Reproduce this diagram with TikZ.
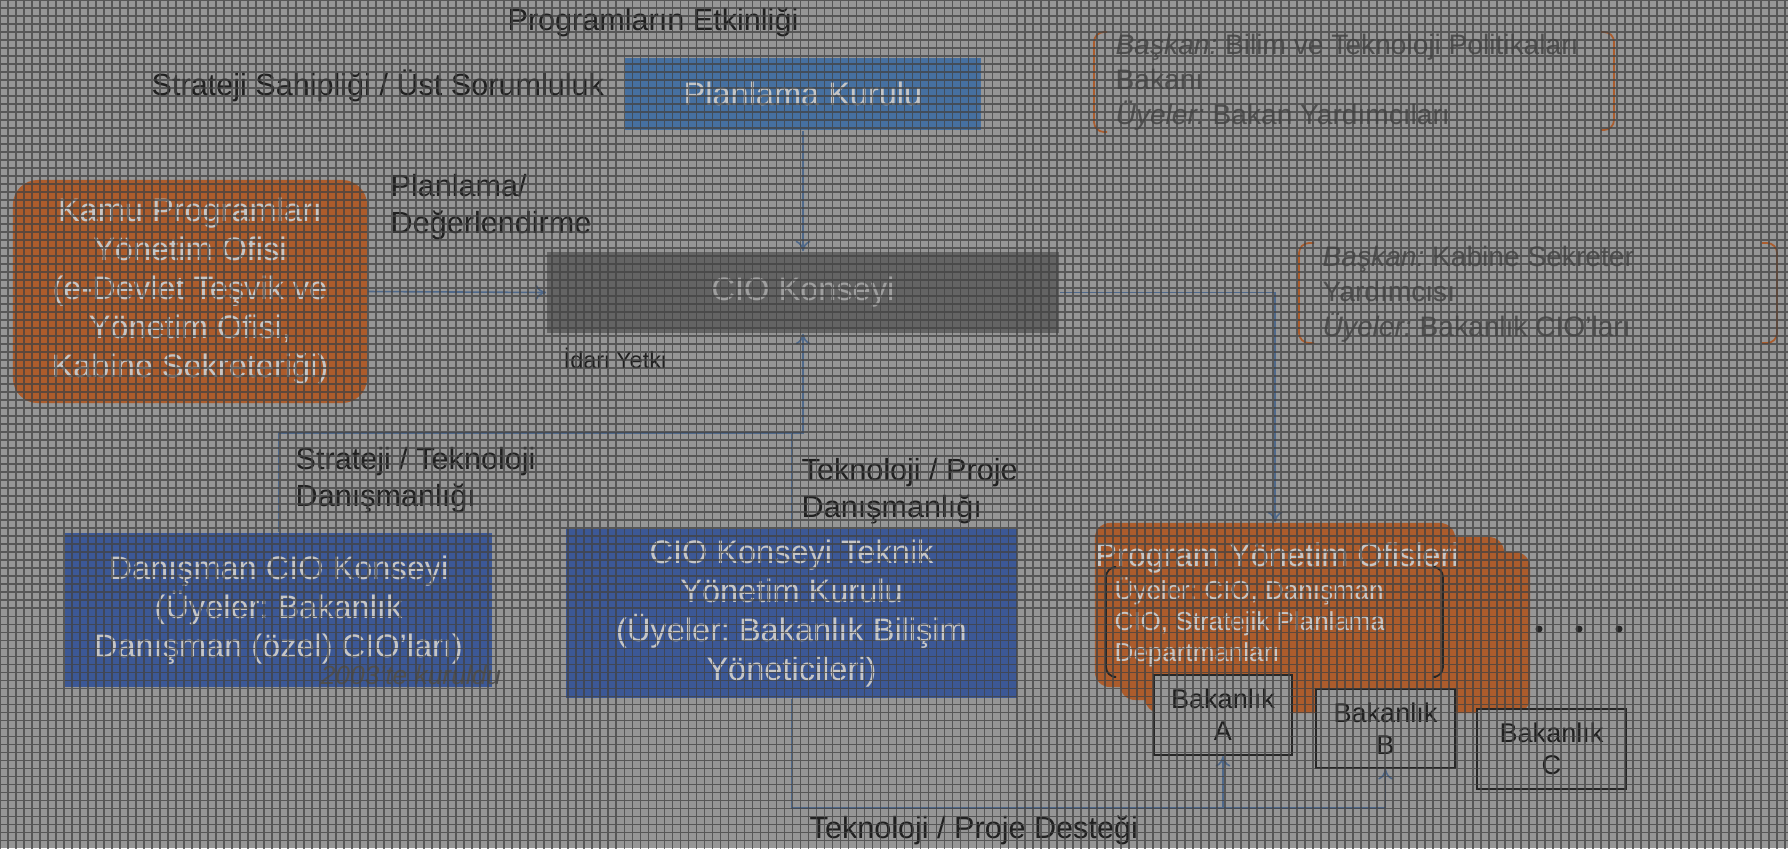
\documentclass[tikz,border=0pt]{standalone}
\usepackage{fontspec}
\setmainfont{Liberation Sans}
\usetikzlibrary{arrows.meta}
\frenchspacing
\definecolor{bg}{RGB}{150,150,150}
\definecolor{gridc}{RGB}{66,66,66}
\definecolor{blueA}{RGB}{70,112,160}
\definecolor{blueB}{RGB}{60,88,150}
\definecolor{orangeA}{RGB}{172,92,44}
\definecolor{darkbox}{RGB}{100,100,100}
\definecolor{boxtxt}{RGB}{198,198,198}
\definecolor{ciotxt}{RGB}{160,160,160}
\definecolor{lbl}{RGB}{32,32,32}
\definecolor{brtxt}{RGB}{80,80,80}
\definecolor{connc}{RGB}{78,104,138}
\definecolor{edgec}{RGB}{38,38,38}
\begin{document}
\begin{tikzpicture}[x=0.01cm,y=-0.01cm,
  boxtext/.style={inner sep=0, align=center, text=boxtxt, font=\fontsize{9.25}{11.1}\selectfont},
  lab/.style={inner sep=0, align=left, text=lbl, font=\fontsize{8.7}{10.4}\selectfont},
  brt/.style={inner sep=0, align=left, text=brtxt, font=\fontsize{8}{9.9}\selectfont},
  conn/.style={draw=connc, line width=0.45pt},
  arr/.style={conn, -{To[length=3pt,width=4.2pt]}},
  bak/.style={draw=edgec, fill=bg, line width=0.55pt, inner sep=0, align=center, text=lbl, font=\fontsize{7.7}{9.1}\selectfont},
  brk/.style={line width=0.5pt, rounded corners=0.1cm}
]
\path[use as bounding box, fill=bg] (0,0) rectangle (1788,848);

% boxes
\node[boxtext, fill=blueA, minimum width=3.56cm, minimum height=0.72cm] (plan) at (803,94) {Planlama Kurulu};
\node[boxtext, text=ciotxt, fill=darkbox, minimum width=5.12cm, minimum height=0.81cm] (cio) at (803,292.5) {CIO Konseyi};
\node[boxtext, fill=orangeA, rounded corners=0.25cm, minimum width=3.54cm, minimum height=2.23cm] (kamu) at (190,291.5) {Kamu Programları\\Yönetim Ofisi\\(e-Devlet Teşvik ve\\Yönetim Ofisi,\\Kabine Sekreteriği)};
\node[boxtext, fill=blueB, minimum width=4.27cm, minimum height=1.54cm] (dan) at (278.5,610) {Danışman CIO Konseyi\\(Üyeler: Bakanlık\\Danışman (özel) CIO’ları)};
\node[inner sep=0, text=brtxt, font=\fontsize{7.5}{9}\selectfont\itshape] (kur) at (411,675) {2003’te kuruldu};
\node[boxtext, fill=blueB, minimum width=4.51cm, minimum height=1.69cm] (tek) at (791.5,613.5) {CIO Konseyi Teknik\\Yönetim Kurulu\\(Üyeler: Bakanlık Bilişim\\Yöneticileri)};

% program offices (stacked)
\fill[orangeA, rounded corners=0.15cm] (1145,552) rectangle (1530,713);
\fill[orangeA, rounded corners=0.15cm] (1120,537) rectangle (1504,700);
\node[fill=orangeA, rounded corners=0.15cm, minimum width=3.60cm, minimum height=1.64cm] (pyo) at (1275,605) {};
\node[boxtext] (pyoT) at (1277,558) {Program Yönetim Ofisleri};
\node[boxtext, align=left, font=\fontsize{7.4}{8.8}\selectfont, anchor=west] (pyoM) at (1114,622) {Üyeler: CIO, Danışman\\CIO, Stratejik Planlama\\Departmanları};
\draw[edgec, brk] (1113,567) -- (1106,567) -- (1106,677) -- (1113,677);
\draw[edgec, brk] (1436,567) -- (1443,567) -- (1443,677) -- (1436,677);

\node[bak, minimum width=1.38cm, minimum height=0.80cm] (bakA) at (1223,715) {Bakanlık\\A};
\node[bak, minimum width=1.39cm, minimum height=0.79cm] (bakB) at (1385.5,728.5) {Bakanlık\\B};
\node[bak, minimum width=1.49cm, minimum height=0.80cm] (bakC) at (1551.5,749) {Bakanlık\\C};
\fill[edgec] (1539,629) circle[radius=0.035cm];
\fill[edgec] (1579,629) circle[radius=0.035cm];
\fill[edgec] (1619,629) circle[radius=0.035cm];

% braces
\node[brt, anchor=west] (br1) at (1115,82) {\textit{Başkan:} Bilim ve Teknoloji Politikaları\\Bakanı\\\textit{Üyeler:} Bakan Yardımcıları};
\draw[orangeA, brk] (1107,32) -- (1094,32) -- (1094,132) -- (1107,132);
\draw[orangeA, brk] (1601,32) -- (1614,32) -- (1614,130) -- (1601,130);
\node[brt, anchor=west] (br2) at (1322,294) {\textit{Başkan:} Kabine Sekreter\\Yardımcısı\\\textit{Üyeler:} Bakanlık CIO’ları};
\draw[orangeA, brk] (1314,243) -- (1299,243) -- (1299,343) -- (1314,343);
\draw[orangeA, brk] (1762,243) -- (1777,243) -- (1777,343) -- (1762,343);

% labels
\node[lab, anchor=base] (progL) at (653,30) {Programların Etkinliği};
\node[lab, anchor=base west] (stratL) at (151,95) {Strateji Sahipliği / Üst Sorumluluk};
\node[lab, anchor=west] (planL) at (390,207) {Planlama/\\Değerlendirme};
\node[lab, font=\fontsize{6.7}{8}\selectfont, anchor=base west] (idari) at (563,368) {İdari Yetki};
\node[lab, anchor=west] (stL) at (295,480) {Strateji / Teknoloji\\Danışmanlığı};
\node[lab, anchor=west] (tpL) at (801,491) {Teknoloji / Proje\\Danışmanlığı};
\node[lab, anchor=base west] (tdL) at (809,838) {Teknoloji / Proje Desteği};

% connectors
\coordinate (J) at (803,433);
\coordinate (bot) at (791.5,808);
\draw[arr] (kamu.east) -- (cio.west);
\draw[arr] (plan.south) -- (cio.north);
\draw[arr] (dan.north) |- (J) -- (cio.south);
\draw[conn] (tek.north) -- (tek.north |- J);
\draw[arr] (tek.south) -- (bot) -| (bakB.south);
\draw[arr] (bakA.south |- bot) -- (bakA.south);
\draw[arr] (cio.east) -| (pyo.north);

% texture overlay
\begin{scope}[x=1cm,y=1cm]
\draw[gridc, opacity=0.75, line width=0.5pt, step=0.08] (0,-8.48) grid (17.88,0);
\end{scope}
\end{tikzpicture}
\end{document}
